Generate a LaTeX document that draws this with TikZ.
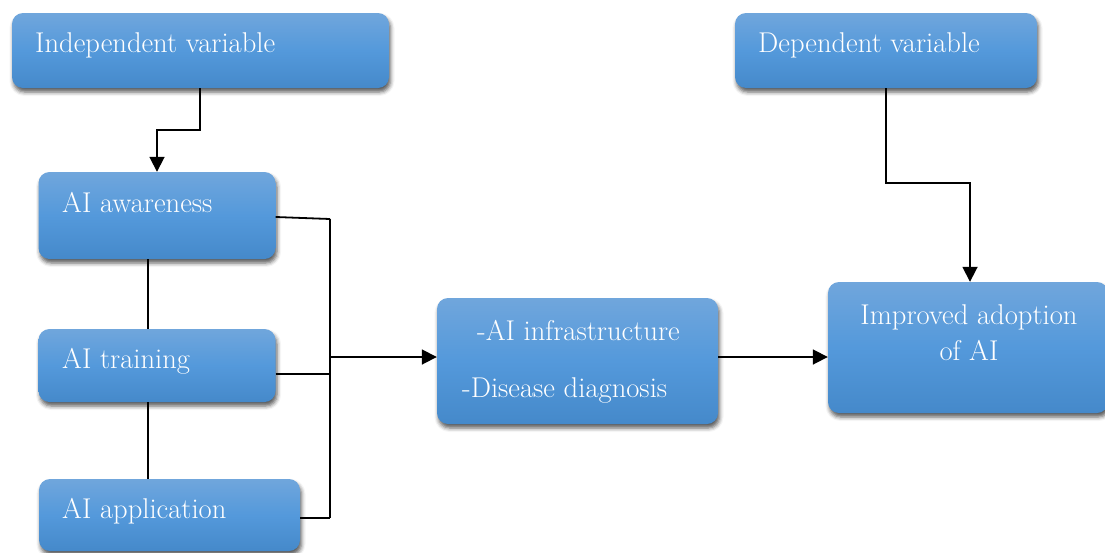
\documentclass[tikz,border=0pt]{standalone}
\usetikzlibrary{shadows.blur,arrows.meta}
\definecolor{boxtop}{RGB}{112,166,220}
\definecolor{boxmid}{RGB}{84,153,219}
\definecolor{boxbot}{RGB}{69,137,202}
\begin{document}
\begin{tikzpicture}[x=1pt,y=-1pt,
  box/.style={rectangle, rounded corners=11pt, draw=none, inner sep=0pt,
    top color=boxtop, bottom color=boxbot, middle color=boxmid,
    blur shadow={shadow xshift=1.5pt, shadow yshift=-4pt, shadow blur radius=4pt, shadow opacity=65}},
  lbl/.style={text=white, font=\fontsize{28.6}{36}\selectfont, inner sep=0pt},
  conn/.style={line width=1.8pt, black},
  arr/.style={conn, -{Triangle[length=15pt,width=15pt]}}]
\useasboundingbox (0,0) rectangle (1105,552);
% boxes
\node[box, minimum width=377pt, minimum height=75pt] (indep) at (200.5,50.5) {};
\node[box, minimum width=302pt, minimum height=75pt] (dep) at (886,50.5) {};
\node[box, minimum width=237pt, minimum height=87pt] (aware) at (157,215.5) {};
\node[box, minimum width=237pt, minimum height=73pt] (train) at (157,365.5) {};
\node[box, minimum width=261pt, minimum height=72pt] (appl) at (169.5,515) {};
\node[box, minimum width=281pt, minimum height=126pt] (mid) at (577.5,361) {};
\node[box, minimum width=280pt, minimum height=131pt] (impr) at (968,347.5) {};
% labels
\node[lbl, anchor=base west] (tIndep) at (35,52) {Independent variable};
\node[lbl, anchor=base west] (tDep) at (758,52) {Dependent variable};
\node[lbl, anchor=base west] (tAware) at (62,212) {AI awareness};
\node[lbl, anchor=base west] (tTrain) at (62,368) {AI training};
\node[lbl, anchor=base west] (tAppl) at (62,518) {AI application};
\node[lbl, anchor=base west] (tInfra) at (477,340) {-AI infrastructure};
\node[lbl, anchor=base west] (tDiag) at (462,397) {-Disease diagnosis};
\node[lbl, align=center] (tImpr) at (969,333) {Improved adoption\\of AI};
% connectors
\coordinate (busTop) at (330,219);
\coordinate (busBot) at (330,518);
\coordinate (busMid) at (330,357);
\draw[arr] (indep.south -| 200,0) |- (157,130) -- (aware.north -| 157,0);
\draw[arr] (dep.south -| 886,0) |- (970,183) -- (impr.north -| 970,0);
\draw[conn] (aware.east |- 0,217) -- (busTop);
\draw[conn] (train.east |- 0,374) -- (330,374);
\draw[conn] (appl.east |- 0,518) -- (busBot);
\draw[conn] (busTop) -- (busBot);
\draw[arr] (busMid) -- (mid.west |- busMid);
\draw[arr] (mid.east |- 0,357) -- (impr.west |- 0,357);
\draw[conn] (aware.south -| 148,0) -- (train.north -| 148,0);
\draw[conn] (train.south -| 148,0) -- (appl.north -| 148,0);
\end{tikzpicture}
\end{document}
